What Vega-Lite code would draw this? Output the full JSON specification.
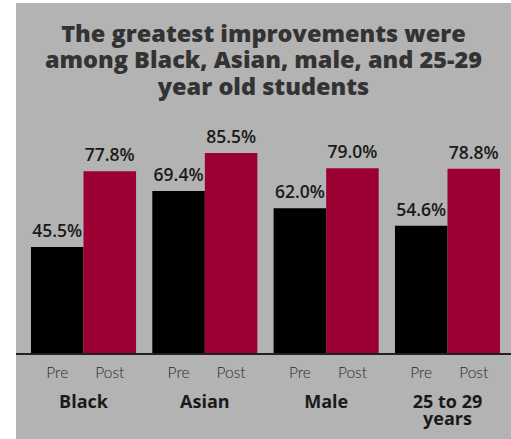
{
  "$schema": "https://vega.github.io/schema/vega-lite/v6.json",
  "width": 495,
  "height": 436,
  "autosize": {"type": "none"},
  "padding": {"left": 16, "top": 3, "right": 0, "bottom": 0},
  "background": "white",
  "config": {"view": {"fill": "#b3b3b3", "stroke": null}, "text": {"lineBreak": "\n"}},
  "title": {
    "text": ["The greatest improvements were", "among Black, Asian, male, and 25-29", "year old students"],
    "font": "Open Sans", "fontWeight": 800, "fontSize": 23.5, "color": "#333333",
    "lineHeight": 26.5, "anchor": "middle", "baseline": "top", "dy": 100
  },
  "datasets": {
    "main": [
      {"group": "Black", "phase": "Pre", "value": 45.5, "label": "45.5%"},
      {"group": "Black", "phase": "Post", "value": 77.8, "label": "77.8%"},
      {"group": "Asian", "phase": "Pre", "value": 69.4, "label": "69.4%"},
      {"group": "Asian", "phase": "Post", "value": 85.5, "label": "85.5%"},
      {"group": "Male", "phase": "Pre", "value": 62.0, "label": "62.0%"},
      {"group": "Male", "phase": "Post", "value": 79.0, "label": "79.0%"},
      {"group": "25 to 29\nyears", "phase": "Pre", "value": 54.6, "label": "54.6%"},
      {"group": "25 to 29\nyears", "phase": "Post", "value": 78.8, "label": "78.8%"}
    ],
    "groups": [
      {"group": "Black"}, {"group": "Asian"}, {"group": "Male"}, {"group": "25 to 29\nyears"}
    ]
  },
  "layer": [
    {
      "data": {"name": "main"},
      "mark": {"type": "bar"},
      "encoding": {
        "x": {"field": "group", "type": "nominal", "sort": null, "axis": null,
              "scale": {"paddingInner": 0.134, "paddingOuter": 0.107, "align": 0.577}},
        "xOffset": {"field": "phase", "type": "nominal", "sort": ["Pre", "Post"], "scale": {"paddingInner": 0, "paddingOuter": 0}},
        "y": {"field": "value", "type": "quantitative", "axis": null, "scale": {"domain": [-36.17, 149.36], "nice": false, "zero": false}},
        "y2": {"datum": 0},
        "color": {"field": "phase", "type": "nominal", "legend": null,
                  "scale": {"domain": ["Pre", "Post"], "range": ["#000000", "#9c0032"]}}
      }
    },
    {
      "data": {"name": "main"},
      "mark": {"type": "text", "font": "Open Sans", "fontSize": 17.5, "fontWeight": 600, "color": "#1a1a1a", "baseline": "alphabetic", "dy": -10},
      "encoding": {
        "x": {"field": "group", "type": "nominal", "sort": null},
        "xOffset": {"field": "phase", "type": "nominal", "sort": ["Pre", "Post"]},
        "y": {"field": "value", "type": "quantitative"},
        "text": {"field": "label"}
      }
    },
    {
      "data": {"name": "main"},
      "mark": {"type": "text", "font": "Lato", "fontSize": 15.5, "fontWeight": 300, "color": "#2a2a2a", "baseline": "alphabetic", "dy": 24},
      "encoding": {
        "x": {"field": "group", "type": "nominal", "sort": null},
        "xOffset": {"field": "phase", "type": "nominal", "sort": ["Pre", "Post"]},
        "y": {"datum": 0},
        "text": {"field": "phase"}
      }
    },
    {
      "data": {"name": "groups"},
      "mark": {"type": "text", "font": "Open Sans", "fontSize": 18, "fontWeight": "bold", "color": "#1a1a1a", "baseline": "alphabetic", "dy": 54, "lineHeight": 17},
      "encoding": {
        "x": {"field": "group", "type": "nominal", "sort": null},
        "y": {"datum": 0},
        "text": {"field": "group"}
      }
    },
    {
      "data": {"name": "main"},
      "mark": {"type": "rule", "color": "#222222", "strokeWidth": 1.5},
      "encoding": {"y": {"datum": 0}}
    }
  ]
}
